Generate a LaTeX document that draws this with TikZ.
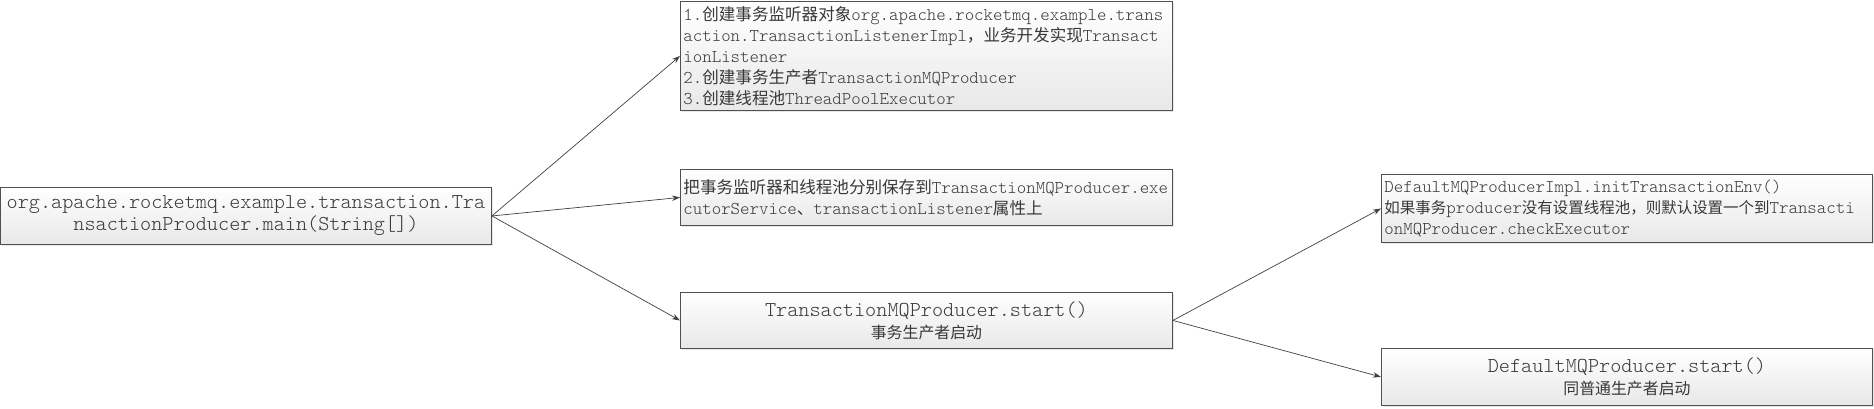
\documentclass[tikz,border=0pt]{standalone}
\usepackage{fontspec}
\setmainfont{lmmonolt10-regular}[Extension=.otf]
\newfontfamily\cjk[Scale=0.92]{Noto Sans CJK SC}
\newfontfamily\cjkc[Scale=0.86]{Noto Sans CJK SC}
\newfontfamily\cjkb[Scale=0.75]{Noto Sans CJK SC}
\newcommand\zh[1]{{\cjk #1}}
\newcommand\zhc[1]{{\cjkc #1}}
\newcommand\zhb[1]{{\cjkb #1}}
\usetikzlibrary{arrows.meta,shadows}
\definecolor{txt}{HTML}{383838}
\definecolor{edge}{HTML}{505050}
\definecolor{conn}{HTML}{404040}
\tikzset{
  box/.style={draw=edge, line width=0.9pt, rectangle, anchor=north west,
    top color=white, bottom color=black!9, inner xsep=3pt, inner ysep=2pt,
    text=txt, drop shadow={opacity=0.18, shadow xshift=1.5pt, shadow yshift=-1.5pt}},
  small/.style={font=\fontsize{18}{21}\selectfont},
  big/.style={font=\fontsize{21.2}{22}\selectfont},
  leftbox/.style={align=left, text width=#1},
  conn/.style={draw=conn, line width=0.7pt, -{Stealth[length=8pt,width=5.5pt]}}
}
\begin{document}
\begin{tikzpicture}[x=1pt,y=1pt]
\useasboundingbox (0,0) rectangle (1874,-408);
\node[box, big, align=center, minimum width=491pt, minimum height=57pt] (m) at (0,-187)
  {org.apache.rocketmq.example.transaction.Tra\\nsactionProducer.main(String[])};
\node[box, small, leftbox=486pt, minimum height=109pt] (b1) at (680,-1)
  {1.\zh{创建事务监听器对象}org.apache.rocketmq.example.trans\\
   action.TransactionListenerImpl\zh{，业务开发实现}Transact\\
   ionListener\\
   2.\zh{创建事务生产者}TransactionMQProducer\\
   3.\zh{创建线程池}ThreadPoolExecutor};
\node[box, small, leftbox=486pt, minimum height=56pt] (b2) at (680,-169)
  {\zh{把事务监听器和线程池分别保存到}TransactionMQProducer.exe\\
   cutorService\zh{、}transactionListener\zh{属性上}};
\node[box, big, align=center, minimum width=492pt, minimum height=56pt] (b3) at (680,-292)
  {TransactionMQProducer.start()\\\zhb{事务生产者启动}};
\node[box, small, leftbox=485pt, minimum height=68pt] (b4) at (1381,-174)
  {DefaultMQProducerImpl.initTransactionEnv()\\
   \zhc{如果事务}producer\zhc{没有设置线程池，则默认设置一个到}Transacti\\
   onMQProducer.checkExecutor};
\node[box, big, align=center, minimum width=491pt, minimum height=57pt] (b5) at (1381,-348)
  {DefaultMQProducer.start()\\\zhb{同普通生产者启动}};
\draw[conn] (m.east) -- (b1.west);
\draw[conn] (m.east) -- (b2.west);
\draw[conn] (m.east) -- (b3.west);
\draw[conn] (b3.east) -- (b4.west);
\draw[conn] (b3.east) -- (b5.west);
\end{tikzpicture}
\end{document}
